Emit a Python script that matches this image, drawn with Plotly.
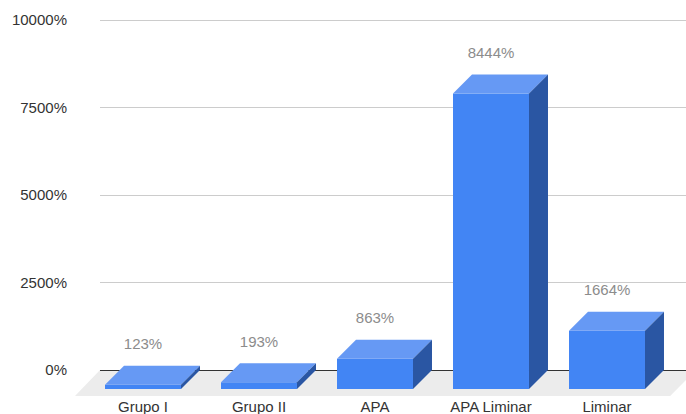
import plotly.graph_objects as go

categories = ["Grupo I", "Grupo II", "APA", "APA Liminar", "Liminar"]
values = [123, 193, 863, 8444, 1664]
y_ticks = [0, 2500, 5000, 7500, 10000]
y_tick_labels = ["0%", "2500%", "5000%", "7500%", "10000%"]

FRONT = "#4285f4"
TOP = "#6699f4"
SIDE = "#2a56a3"
FLOOR = "#ececec"
BAR_W = 0.655
DX = 19 / 116
DY = 19 / 0.035
LABEL_GAP = 575

xs = list(range(len(categories)))
fig = go.Figure()

fig.add_trace(go.Bar(x=xs, y=values, base=-DY, width=BAR_W, marker=dict(color=FRONT, line_width=0),
                     showlegend=False, hoverinfo="skip"))

for x, v in zip(xs, values):
    l, r = x - BAR_W / 2, x + BAR_W / 2
    fig.add_trace(go.Scatter(
        x=[l, r, r + DX, l + DX, l], y=[v - DY, v - DY, v, v, v - DY],
        mode="lines", fill="toself", fillcolor=TOP, line=dict(width=0),
        showlegend=False, hoverinfo="skip", cliponaxis=False))
    fig.add_trace(go.Scatter(
        x=[r, r + DX, r + DX, r, r], y=[-DY, 0, v, v - DY, -DY],
        mode="lines", fill="toself", fillcolor=SIDE, line=dict(width=0),
        showlegend=False, hoverinfo="skip", cliponaxis=False))

fig.add_trace(go.Scatter(
    x=xs, y=[v + LABEL_GAP for v in values], mode="text",
    text=[f"{v}%" for v in values], textposition="middle center",
    textfont=dict(family="Liberation Sans, Arial", size=15, color="#8c8c8c"),
    showlegend=False, hoverinfo="skip", cliponaxis=False))

fig.update_layout(
    width=686, height=414, autosize=False,
    margin=dict(l=100, r=0, t=10, b=18, pad=0),
    paper_bgcolor="white", plot_bgcolor="white",
    font=dict(family="Liberation Sans, Arial", size=15, color="#333333"),
    shapes=[dict(type="path", xref="paper", yref="paper", layer="below",
                 path="M 0 0.06736 L 1.017 0.06736 L 0.973 0 L -0.0427 0 Z",
                 fillcolor=FLOOR, line=dict(width=0))],
    xaxis=dict(tickmode="array", tickvals=xs, ticktext=categories,
               range=[-43 / 116, 543 / 116], showgrid=False, zeroline=False,
               showline=False, ticks="", ticklabelstandoff=0,
               tickfont=dict(size=15, color="#333333")),
    yaxis=dict(tickmode="array", tickvals=y_ticks, ticktext=y_tick_labels,
               range=[-26 / 0.035, 360 / 0.035], showgrid=True, gridcolor="#cccccc", gridwidth=1,
               zeroline=True, zerolinecolor="#333333", zerolinewidth=1,
               showline=False, ticks="", ticklabelstandoff=32,
               tickfont=dict(size=15, color="#333333")),
)

fig.write_html("out.html", post_script="document.body.style.margin='0';",
               config={"displayModeBar": False})
